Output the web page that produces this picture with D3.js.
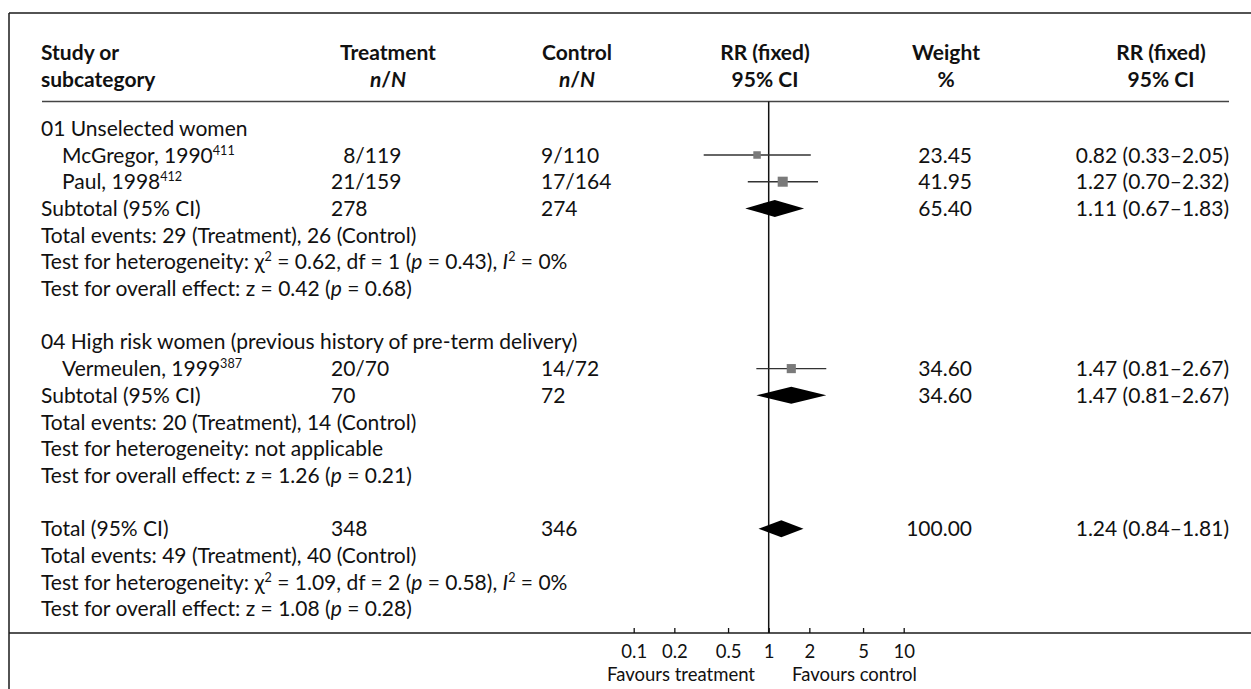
<!DOCTYPE html>
<html>
<head>
<meta charset="utf-8">
<script src="https://cdn.jsdelivr.net/npm/d3@7"></script>
<style>
  html, body { margin: 0; padding: 0; background: #fff; }
  svg { display: block; }
  text { font-family: Lato, "Open Sans", sans-serif; fill: #111; }
</style>
</head>
<body>
<svg id="chart" width="1251" height="689"></svg>
<script>
// ---- Study-level data ----
const studyNames   = ["McGregor, 1990", "Paul, 1998", "Vermeulen, 1999"];
const studyRefs    = ["411", "412", "387"];
const studyGroup   = [0, 0, 1];
const treatmentNN  = ["8/119", "21/159", "20/70"];
const controlNN    = ["9/110", "17/164", "14/72"];
const studyWeight  = [23.45, 41.95, 34.60];
const studyRR      = [0.82, 1.27, 1.47];
const studyLow     = [0.33, 0.70, 0.81];
const studyHigh    = [2.05, 2.32, 2.67];

// ---- Subgroups ----
const groupTitles  = ["01 Unselected women", "04 High risk women (previous history of pre-term delivery)"];
const groupTreatN  = [278, 70];
const groupCtrlN   = [274, 72];
const groupWeight  = [65.40, 34.60];
const groupRR      = [1.11, 1.47];
const groupLow     = [0.67, 0.81];
const groupHigh    = [1.83, 2.67];
const groupEvents  = ["Total events: 29 (Treatment), 26 (Control)", "Total events: 20 (Treatment), 14 (Control)"];
const groupHet     = [
  ["Test for heterogeneity: ", {t: "χ"}, {t: "2", sup: true}, " = 0.62, df = 1 (", {t: "p", it: true}, " = 0.43), ", {t: "I", it: true}, {t: "2", sup: true}, " = 0%"],
  ["Test for heterogeneity: not applicable"]
];
const groupEffect  = [
  ["Test for overall effect: z = 0.42 (", {t: "p", it: true}, " = 0.68)"],
  ["Test for overall effect: z = 1.26 (", {t: "p", it: true}, " = 0.21)"]
];

// ---- Overall pooled result ----
const totalTreatN  = 348;
const totalCtrlN   = 346;
const totalWeight  = 100.00;
const totalRR      = 1.24;
const totalLow     = 0.84;
const totalHigh    = 1.81;
const totalEvents  = "Total events: 49 (Treatment), 40 (Control)";
const totalHet     = ["Test for heterogeneity: ", {t: "χ"}, {t: "2", sup: true}, " = 1.09, df = 2 (", {t: "p", it: true}, " = 0.58), ", {t: "I", it: true}, {t: "2", sup: true}, " = 0%"];
const totalEffect  = ["Test for overall effect: z = 1.08 (", {t: "p", it: true}, " = 0.28)"];

// ---- Axis ----
const tickValues   = [0.1, 0.2, 0.5, 1, 2, 5, 10];
const tickLabels   = ["0.1", "0.2", "0.5", "1", "2", "5", "10"];
const favourLeft   = "Favours treatment";
const favourRight  = "Favours control";

// ---- Layout ----
const W = 1251, H = 689;
const FS = 21, AFS = 18.5;
const rowTop = 128.3, rowH = 26.7;
const rowY = i => rowTop + i * rowH;
const baseOff = FS * 0.36;
const frameLeft = 9, frameTop = 13, headerLine = 101.5, axisLineY = 633;
const col = {
  study: 41, studyIndent: 62,
  treat: 331, ctrl: 541,
  weightRight: 972, rrRight: 1229
};
const fmt2 = d3.format(".2f");
const ciText = (rr, lo, hi) => `${fmt2(rr)} (${fmt2(lo)}–${fmt2(hi)})`;

const svg = d3.select("#chart");
const x = d3.scaleLog().domain([0.1, 10]).range([633.7, 903.7]);

// Build the table rows
const rows = [];
let r = 0;
groupTitles.forEach((title, g) => {
  rows.push({i: r++, type: "title", label: [title]});
  studyNames.forEach((name, s) => {
    if (studyGroup[s] !== g) return;
    rows.push({
      i: r++, type: "study", label: [name, {t: studyRefs[s], sup: true}],
      treat: (treatmentNN[s].length < 6 && g === 0 ? "\u2007" : "") + treatmentNN[s], ctrl: controlNN[s],
      weight: studyWeight[s], rr: studyRR[s], lo: studyLow[s], hi: studyHigh[s]
    });
  });
  rows.push({
    i: r++, type: "pooled", label: ["Subtotal (95% CI)"],
    treat: String(groupTreatN[g]), ctrl: String(groupCtrlN[g]),
    weight: groupWeight[g], rr: groupRR[g], lo: groupLow[g], hi: groupHigh[g]
  });
  rows.push({i: r++, type: "note", label: [groupEvents[g]]});
  rows.push({i: r++, type: "note", label: groupHet[g]});
  rows.push({i: r++, type: "note", label: groupEffect[g]});
  r++; // blank spacer row
});
rows.push({
  i: r++, type: "pooled", label: ["Total (95% CI)"],
  treat: String(totalTreatN), ctrl: String(totalCtrlN),
  weight: totalWeight, rr: totalRR, lo: totalLow, hi: totalHigh
});
rows.push({i: r++, type: "note", label: [totalEvents]});
rows.push({i: r++, type: "note", label: totalHet});
rows.push({i: r++, type: "note", label: totalEffect});

// Write a run of styled segments into a text element
function writeSegments(textSel, segs) {
  segs.forEach(seg => {
    const s = typeof seg === "string" ? {t: seg} : seg;
    const ts = textSel.append("tspan").text(s.t);
    if (s.it) ts.attr("font-style", "italic");
    if (s.sup) ts.attr("font-size", FS * 0.6).attr("baseline-shift", "60%");
  });
}

// ---- Frame and rules ----
const frame = svg.append("g").attr("stroke", "#1a1a1a").attr("stroke-width", 1.5).attr("fill", "none");
frame.append("line").attr("x1", frameLeft).attr("x2", W).attr("y1", frameTop).attr("y2", frameTop);
frame.append("line").attr("x1", frameLeft).attr("x2", frameLeft).attr("y1", frameTop).attr("y2", H);
frame.append("line").attr("x1", frameLeft).attr("x2", W).attr("y1", axisLineY).attr("y2", axisLineY);
svg.append("line").attr("x1", col.study + 1).attr("x2", col.rrRight)
  .attr("y1", headerLine).attr("y2", headerLine)
  .attr("stroke", "#444").attr("stroke-width", 1.5);

// ---- Header ----
const head = svg.append("g").attr("font-weight", "bold").attr("font-size", FS);
const hy1 = 52.5 + baseOff, hy2 = 79 + baseOff;
head.append("text").attr("x", col.study).attr("y", hy1).text("Study or");
head.append("text").attr("x", col.study).attr("y", hy2).text("subcategory");
[
  {cx: 388, a: "Treatment", b: [{t: "n", it: true}, "/", {t: "N", it: true}]},
  {cx: 577, a: "Control", b: [{t: "n", it: true}, "/", {t: "N", it: true}]},
  {cx: 765, a: "RR (fixed)", b: ["95% CI"]},
  {cx: 946, a: "Weight", b: ["%"]},
  {cx: 1161, a: "RR (fixed)", b: ["95% CI"]}
].forEach(h => {
  head.append("text").attr("x", h.cx).attr("y", hy1).attr("text-anchor", "middle").text(h.a);
  writeSegments(head.append("text").attr("x", h.cx).attr("y", hy2).attr("text-anchor", "middle"), h.b);
});

// ---- Table text ----
const body = svg.append("g").attr("font-size", FS);
rows.forEach(d => {
  const y = rowY(d.i) + baseOff;
  const lx = d.type === "study" ? col.studyIndent : col.study;
  writeSegments(body.append("text").attr("x", lx).attr("y", y), d.label);
  if (d.treat !== undefined) {
    body.append("text").attr("x", col.treat).attr("y", y).text(d.treat);
    body.append("text").attr("x", col.ctrl).attr("y", y).text(d.ctrl);
    body.append("text").attr("x", col.weightRight).attr("y", y).attr("text-anchor", "end").text(fmt2(d.weight));
    body.append("text").attr("x", col.rrRight).attr("y", y).attr("text-anchor", "end").text(ciText(d.rr, d.lo, d.hi));
  }
});

// ---- Line of no effect ----
svg.append("line")
  .attr("x1", x(1)).attr("x2", x(1))
  .attr("y1", headerLine).attr("y2", axisLineY)
  .attr("stroke", "#111").attr("stroke-width", 1.5);

// ---- Study estimates: CI whiskers and weighted squares ----
const studies = rows.filter(d => d.type === "study");
const sideScale = d3.scaleSqrt().domain([0, 100]).range([0, 15.5]);
const marks = svg.append("g");
marks.selectAll("line.ci").data(studies).join("line")
  .attr("class", "ci")
  .attr("x1", d => x(d.lo)).attr("x2", d => x(d.hi))
  .attr("y1", d => rowY(d.i)).attr("y2", d => rowY(d.i))
  .attr("stroke", "#333").attr("stroke-width", 1.4);
marks.selectAll("rect.est").data(studies).join("rect")
  .attr("class", "est")
  .attr("x", d => x(d.rr) - sideScale(d.weight) / 2)
  .attr("y", d => rowY(d.i) - sideScale(d.weight) / 2)
  .attr("width", d => sideScale(d.weight))
  .attr("height", d => sideScale(d.weight))
  .attr("fill", "#7a7a7a");

// ---- Pooled estimates: diamonds ----
const pooled = rows.filter(d => d.type === "pooled");
const halfH = 8.5;
marks.selectAll("path.diamond").data(pooled).join("path")
  .attr("class", "diamond")
  .attr("d", d => {
    const y = rowY(d.i);
    return `M${x(d.lo)},${y}L${x(d.rr)},${y - halfH}L${x(d.hi)},${y}L${x(d.rr)},${y + halfH}Z`;
  })
  .attr("fill", "#000");

// ---- Ratio axis ----
const axis = d3.axisBottom(x)
  .tickValues(tickValues)
  .tickFormat((d, i) => tickLabels[i])
  .tickSizeInner(-5)
  .tickSizeOuter(0);
const ax = svg.append("g").attr("transform", `translate(0,${axisLineY})`).call(axis);
ax.select(".domain").remove();
ax.selectAll(".tick line").attr("stroke", "#111").attr("stroke-width", 1.3);
ax.selectAll(".tick text")
  .attr("y", 18 + AFS * 0.36).attr("dy", null)
  .attr("font-size", AFS).attr("font-family", null).attr("fill", "#111");

svg.append("text").attr("font-size", AFS).attr("x", 755).attr("y", 674.5 + AFS * 0.36)
  .attr("text-anchor", "end").text(favourLeft);
svg.append("text").attr("font-size", AFS).attr("x", 792).attr("y", 674.5 + AFS * 0.36)
  .text(favourRight);
</script>
</body>
</html>
